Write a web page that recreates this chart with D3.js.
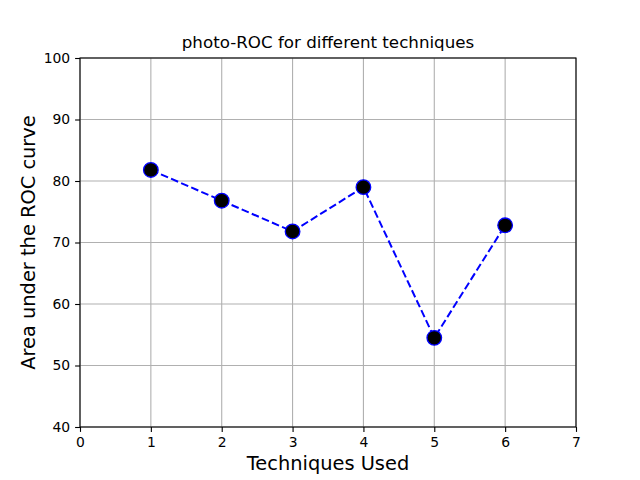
<!DOCTYPE html>
<html><head><meta charset="utf-8">
<script src="https://cdn.jsdelivr.net/npm/d3@7"></script>
<style>body{margin:0;background:#fff;} svg{display:block;font-family:"DejaVu Sans",sans-serif;}</style>
</head><body>
<script>
const techniques = [1, 2, 3, 4, 5, 6];
const auc = [81.8, 76.8, 71.8, 79.0, 54.5, 72.8];
const xTicks = [0, 1, 2, 3, 4, 5, 6, 7];
const yTicks = [40, 50, 60, 70, 80, 90, 100];

const W = 640, H = 480;
const m = {left: 80, right: 64, top: 58, bottom: 53};
const svg = d3.select("body").append("svg").attr("width", W).attr("height", H);
const x = d3.scaleLinear().domain([0, 7]).range([m.left, W - m.right]);
const y = d3.scaleLinear().domain([40, 100]).range([H - m.bottom, m.top]);

const g = svg.append("g");
// grid
g.selectAll(".gx").data(xTicks).enter().append("line")
  .attr("x1", d => x(d)).attr("x2", d => x(d)).attr("y1", y(40)).attr("y2", y(100))
  .attr("stroke", "#b0b0b0").attr("stroke-width", 1.1);
g.selectAll(".gy").data(yTicks).enter().append("line")
  .attr("y1", d => y(d)).attr("y2", d => y(d)).attr("x1", x(0)).attr("x2", x(7))
  .attr("stroke", "#b0b0b0").attr("stroke-width", 1.1);

const xAxis = svg.append("g").attr("transform", `translate(0,${y(40)})`)
  .call(d3.axisBottom(x).tickValues(xTicks).tickSize(4.9).tickPadding(4.9).tickFormat(d3.format("d")));
const yAxis = svg.append("g").attr("transform", `translate(${x(0)},0)`)
  .call(d3.axisLeft(y).tickValues(yTicks).tickSize(4.9).tickPadding(4.9).tickFormat(d3.format("d")));
[xAxis, yAxis].forEach(a => {
  a.selectAll("text").attr("font-size", 13.9).attr("fill", "#000").attr("font-family", "DejaVu Sans");
  a.selectAll("line").attr("stroke", "#000").attr("stroke-width", 1.1);
  a.select(".domain").remove();
});
svg.append("rect").attr("x", x(0)).attr("y", y(100)).attr("width", x(7) - x(0)).attr("height", y(40) - y(100))
  .attr("fill", "none").attr("stroke", "#000").attr("stroke-width", 1.1);

const pts = techniques.map((t, i) => [t, auc[i]]);
svg.append("path").datum(pts)
  .attr("d", d3.line().x(d => x(d[0])).y(d => y(d[1])))
  .attr("fill", "none").attr("stroke", "#0000ff").attr("stroke-width", 2).attr("stroke-dasharray", "7.7,3.3");
svg.selectAll(".pt").data(pts).enter().append("circle")
  .attr("cx", d => x(d[0])).attr("cy", d => y(d[1])).attr("r", 7.3)
  .attr("fill", "#000").attr("stroke", "#0000ff").attr("stroke-width", 1.3);

svg.append("text").attr("x", (x(0) + x(7)) / 2).attr("y", 48).attr("text-anchor", "middle")
  .attr("font-size", 16.7).text("photo-ROC for different techniques");
svg.append("text").attr("x", (x(0) + x(7)) / 2).attr("y", 470).attr("text-anchor", "middle")
  .attr("font-size", 19.4).text("Techniques Used");
svg.append("text").attr("transform", `translate(35,${(y(40) + y(100)) / 2}) rotate(-90)`).attr("text-anchor", "middle")
  .attr("font-size", 19.4).text("Area under the ROC curve");
</script>
</body></html>
